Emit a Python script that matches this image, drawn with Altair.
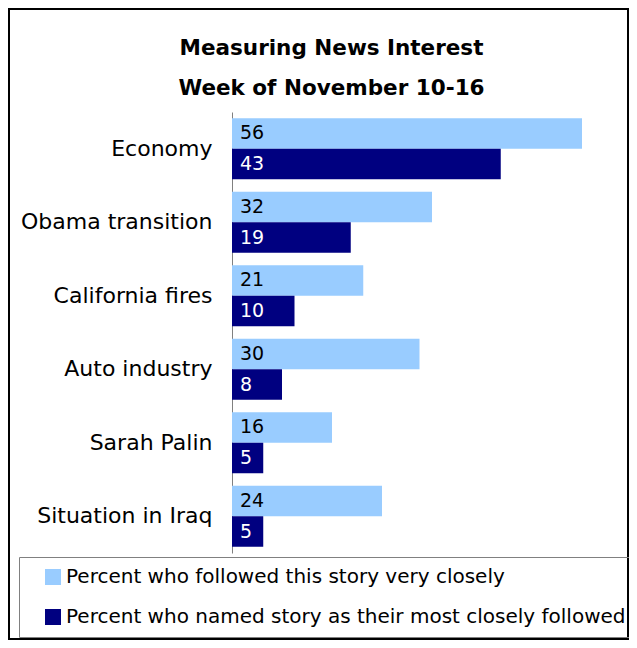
import altair as alt
import pandas as pd

categories = ["Economy", "Obama transition", "California fires", "Auto industry", "Sarah Palin", "Situation in Iraq"]
very_closely = [56, 32, 21, 30, 16, 24]
most_closely = [43, 19, 10, 8, 5, 5]
series_names = ["Percent who followed this story very closely",
                "Percent who named story as their most closely followed"]
colors = ["#99CCFF", "#000080"]
label_colors = ["#000000", "#FFFFFF"]

rows = []
for c, a, b in zip(categories, very_closely, most_closely):
    rows.append({"cat": c, "series": series_names[0], "value": a, "lc": label_colors[0]})
    rows.append({"cat": c, "series": series_names[1], "value": b, "lc": label_colors[1]})
df = pd.DataFrame(rows)

FONT = "DejaVu Sans"
W, H = 385, 441
XMAX = 61.6

y = alt.Y("cat:N", sort=categories, title=None,
          scale=alt.Scale(paddingInner=0.17, paddingOuter=0.085),
          axis=alt.Axis(ticks=False, labelPadding=20, labelFontSize=22, labelFont=FONT,
                        labelColor="#000", domainColor="#808080", labelLimit=300))
yoff = alt.YOffset("series:N", sort=series_names, scale=alt.Scale(paddingInner=0, paddingOuter=0))
x = alt.X("value:Q", scale=alt.Scale(domain=[0, XMAX]), axis=None)

bars = alt.Chart(df).mark_bar().encode(
    y=y, yOffset=yoff, x=x,
    color=alt.Color("series:N", sort=series_names,
                    scale=alt.Scale(domain=series_names, range=colors),
                    legend=alt.Legend(title=None, orient="none", legendX=-213, legendY=445,
                                      strokeColor="#808080", padding=10, symbolType="square",
                                      symbolSize=256, symbolOffset=14, symbolStrokeWidth=0,
                                      labelFontSize=20, labelFont=FONT, labelColor="#000",
                                      rowPadding=20, labelLimit=700, labelOffset=3,
                                      direction="vertical"))
)

texts = alt.Chart(df).mark_text(align="left", baseline="middle", dx=8, fontSize=19, font=FONT).encode(
    y=y, yOffset=yoff, x=alt.X("zero:Q", scale=alt.Scale(domain=[0, XMAX]), axis=None),
    text="value:Q", color=alt.Color("lc:N", scale=None)
).transform_calculate(zero="0")

one = pd.DataFrame({"a": [0]})
frame = alt.Chart(one).mark_rect(fill=None, stroke="#000", strokeWidth=2).encode(
    x=alt.value(-223), x2=alt.value(396), y=alt.value(-103), y2=alt.value(527))

chart = alt.layer(frame, bars, texts).properties(
    width=W, height=H,
    autosize=alt.AutoSizeParams(type="none"),
    background="white",
    padding={"left": 224, "top": 104, "right": 12, "bottom": 87},
    title=alt.TitleParams(["Measuring News Interest", "Week of November 10-16"],
                          anchor="middle", frame="group", dx=-93, fontSize=21.5, font=FONT,
                          fontWeight="bold", lineHeight=40, offset=-113, baseline="bottom",
                          color="#000")
).configure_view(stroke=None)

chart.save("out.html", embed_options={"renderer": "svg", "actions": False})
